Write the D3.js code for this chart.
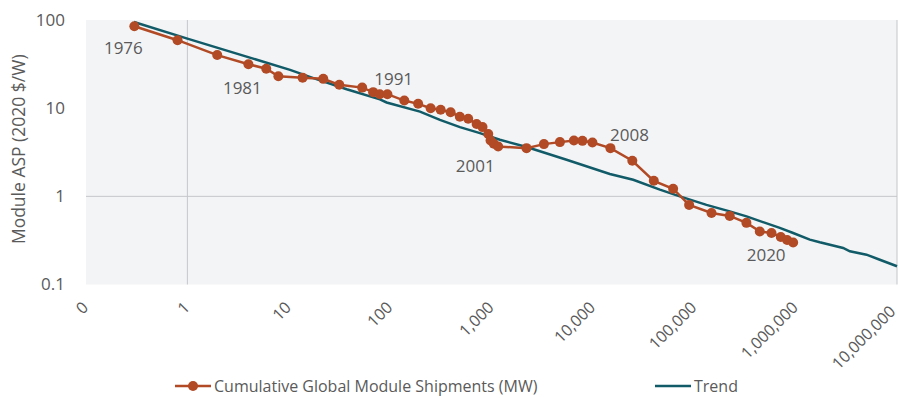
<!DOCTYPE html>
<html>
<head>
<meta charset="utf-8">
<script src="https://cdn.jsdelivr.net/npm/d3@7"></script>
<style>
  html, body { margin: 0; padding: 0; background: #ffffff; }
  svg { display: block; font-family: "Open Sans", "Noto Sans", sans-serif; }
</style>
</head>
<body>
<svg id="chart" width="899" height="398"></svg>
<script>
// Cumulative global module shipments (MW), one entry per year 1976–2020
const years = d3.range(1976, 2021);
const shipments = [
  0.30, 0.80, 1.97, 4.0, 6.0, 7.9, 13.7, 21.9, 31.5, 53, 68, 79, 94, 138, 189,
  251, 315, 395, 487, 589, 713, 815, 929, 979, 1054, 1164, 2215, 3290, 4730,
  6500, 7890, 9900, 14900, 24500, 39900, 61900, 89000, 148000, 224000, 327000,
  443000, 578000, 714000, 824000, 945000
];
// Module average selling price (2020 $/W)
const asp = [
  85, 59, 40, 31.5, 28, 23, 22.2, 21.5, 18.4, 17.1, 15.2, 14.4, 14.4, 12.2, 11.2,
  10.0, 9.6, 9.0, 8.0, 7.6, 6.6, 6.1, 5.1, 4.3, 3.94, 3.67, 3.52, 3.91, 4.12,
  4.3, 4.26, 4.07, 3.52, 2.53, 1.50, 1.22, 0.80, 0.647, 0.60, 0.50,
  0.40, 0.384, 0.346, 0.32, 0.30
];

// Experience-curve trend
const trendX = [
  0.297, 1.0, 10.3, 17.5, 37.3, 79.3, 92.3, 197, 310, 488, 769, 1210, 2220,
  5500, 14700, 25000, 45800, 72100, 132000, 224000, 328000, 698000, 945000,
  1380000, 1730000, 2940000, 3430000, 5000000, 6770000, 10000000
];
const trendY = [
  94.9, 61.4, 27.2, 21.9, 16.4, 12.6, 11.6, 9.14, 7.36, 6.09, 5.21, 4.38, 3.62,
  2.60, 1.79, 1.54, 1.19, 1.0, 0.80, 0.675, 0.592, 0.438, 0.384,
  0.323, 0.301, 0.26, 0.238, 0.218, 0.191, 0.161
];

// Axis ticks
const xTicks = [0.1, 1, 10, 100, 1000, 10000, 100000, 1000000, 10000000];
const xTickLabels = ["0", "1", "10", "100", "1,000", "10,000", "100,000", "1,000,000", "10,000,000"];
const yTicks = [0.1, 1, 10, 100];
const yTickLabels = ["0.1", "1", "10", "100"];

// Years called out on the curve
const labelYears = [1976, 1981, 1991, 2001, 2008, 2020];

const seriesNames = ["Cumulative Global Module Shipments (MW)", "Trend"];
const yTitle = "Module ASP (2020 $/W)";

// ---- layout & style ----
const red = "#b14a25";
const teal = "#115b68";
const textColor = "#5a5a5a";
const plot = { left: 86, right: 897, top: 20, bottom: 284.5 };
const labelOffset = {
  1976: [-11, 28], 1981: [-36, 18], 1991: [-37, -23],
  2001: [-23, 25], 2008: [19, -7], 2020: [-27, 19]
};

const svg = d3.select("#chart");

const x = d3.scaleLog().domain([0.1, 1e7]).range([plot.left, plot.right]);
const y = d3.scaleLog().domain([0.1, 100]).range([plot.bottom, plot.top]);

// plot background
svg.append("rect")
  .attr("x", plot.left).attr("y", plot.top)
  .attr("width", plot.right - plot.left).attr("height", plot.bottom - plot.top)
  .attr("fill", "#f3f4f6");

// gridlines
const grid = svg.append("g").attr("stroke", "#c4c6c8").attr("stroke-width", 1);
[1, 1e7].forEach(v => grid.append("line")
  .attr("x1", x(v)).attr("x2", x(v)).attr("y1", plot.top).attr("y2", plot.bottom));
[1].forEach(v => grid.append("line")
  .attr("x1", plot.left).attr("x2", plot.right).attr("y1", y(v)).attr("y2", y(v)));

// y axis
const yAxis = svg.append("g")
  .attr("transform", `translate(${plot.left - 18},0)`)
  .call(d3.axisLeft(y).tickValues(yTicks).tickSize(0)
    .tickFormat((d, i) => yTickLabels[i]));
yAxis.select(".domain").remove();
yAxis.selectAll("text").attr("fill", textColor).attr("font-size", 17)
  .attr("font-family", "Open Sans, sans-serif");

// x axis, labels slanted so that each ends at its tick
const xAxis = svg.append("g")
  .attr("transform", `translate(0,${plot.bottom + 19})`)
  .call(d3.axisBottom(x).tickValues(xTicks).tickSize(0)
    .tickFormat((d, i) => xTickLabels[i]));
xAxis.select(".domain").remove();
xAxis.selectAll("text")
  .attr("fill", textColor).attr("font-size", 16)
  .attr("font-family", "Open Sans, sans-serif")
  .attr("text-anchor", "end")
  .attr("x", 0).attr("y", 0)
  .attr("dx", (d, i) => i === xTicks.length - 1 ? "-0.45em" : "-0.1em")
  .attr("dy", "0.35em")
  .attr("transform", "rotate(-45)");

// y axis title
svg.append("text")
  .attr("transform", `translate(25,${(plot.top + plot.bottom) / 2 - 3}) rotate(-90)`)
  .attr("text-anchor", "middle")
  .attr("fill", textColor).attr("font-size", 17.5)
  .text(yTitle);

// trend line
const trendData = trendX.map((v, i) => [v, trendY[i]]);
svg.append("path")
  .datum(trendData)
  .attr("fill", "none").attr("stroke", teal).attr("stroke-width", 2.5)
  .attr("d", d3.line().x(d => x(d[0])).y(d => y(d[1])));

// shipments curve
const pts = shipments.map((v, i) => ({ x: v, y: asp[i], year: years[i] }));
svg.append("path")
  .datum(pts)
  .attr("fill", "none").attr("stroke", red).attr("stroke-width", 2.5)
  .attr("d", d3.line().x(d => x(d.x)).y(d => y(d.y)));
svg.append("g").selectAll("circle")
  .data(pts).join("circle")
  .attr("cx", d => x(d.x)).attr("cy", d => y(d.y)).attr("r", 5)
  .attr("fill", red);

// year callouts
svg.append("g").selectAll("text")
  .data(pts.filter(d => labelYears.includes(d.year))).join("text")
  .attr("x", d => x(d.x) + labelOffset[d.year][0])
  .attr("y", d => y(d.y) + labelOffset[d.year][1])
  .attr("text-anchor", "middle")
  .attr("fill", textColor).attr("font-size", 17)
  .text(d => d.year);

// legend
const legend = svg.append("g").attr("transform", "translate(0,386)");
const l1 = legend.append("g").attr("transform", "translate(175,0)");
l1.append("line").attr("x1", 0).attr("x2", 36).attr("stroke", red).attr("stroke-width", 2.5);
l1.append("circle").attr("cx", 18).attr("r", 5).attr("fill", red);
l1.append("text").attr("x", 39).attr("dy", "0.35em")
  .attr("fill", textColor).attr("font-size", 16).text(seriesNames[0]);
const l2 = legend.append("g").attr("transform", "translate(655,0)");
l2.append("line").attr("x1", 0).attr("x2", 36).attr("stroke", teal).attr("stroke-width", 2.5);
l2.append("text").attr("x", 39).attr("dy", "0.35em")
  .attr("fill", textColor).attr("font-size", 16).text(seriesNames[1]);
</script>
</body>
</html>
